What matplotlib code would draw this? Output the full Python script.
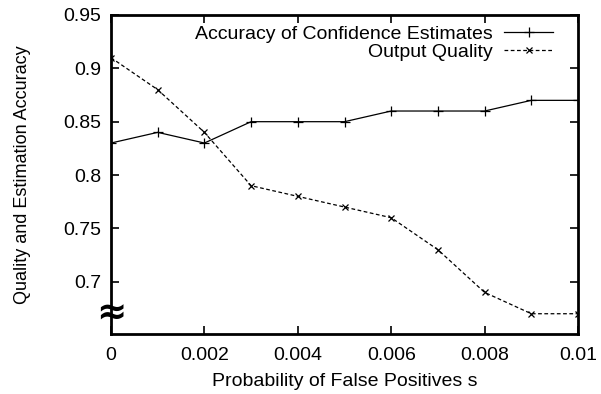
import matplotlib.pyplot as plt

plt.rcParams['font.family'] = ['Liberation Sans', 'DejaVu Sans']

# data
x = [0, 0.001, 0.002, 0.003, 0.004, 0.005, 0.006, 0.007, 0.008, 0.009, 0.01]
accuracy = [0.83, 0.84, 0.83, 0.85, 0.85, 0.85, 0.86, 0.86, 0.86, 0.87, 0.87]
quality = [0.91, 0.88, 0.84, 0.79, 0.78, 0.77, 0.76, 0.73, 0.69, 0.67, 0.67]
xticks = [0, 0.002, 0.004, 0.006, 0.008, 0.01]
xticklabels = ['0', '0.002', '0.004', '0.006', '0.008', '0.01']
yticks = [0.7, 0.75, 0.8, 0.85, 0.9, 0.95]
yticklabels = ['0.7', '0.75', '0.8', '0.85', '0.9', '0.95']

fig = plt.figure(figsize=(6.01, 3.94), dpi=100)
ax = fig.add_axes([111 / 601, 60 / 394, 467 / 601, 319 / 394])

ax.plot(x, accuracy, color='black', lw=0.9, marker='+', ms=7, mew=0.9,
        label='Accuracy of Confidence Estimates')
ax.plot(x, quality, color='black', lw=0.9, ls=(0, (3, 2)), marker='x',
        ms=5, mew=0.9, label='Output Quality')

ax.set_xlim(0, 0.01)
ax.set_ylim(0.651, 0.95)
ax.set_xticks(xticks)
ax.set_xticklabels(xticklabels)
ax.set_yticks(yticks)
ax.set_yticklabels(yticklabels)
ax.tick_params(direction='in', length=6, width=1.2, labelsize=14,
               top=True, right=True, pad=7)
ax.tick_params(axis='x', pad=9)
for s in ax.spines.values():
    s.set_linewidth(2)

ax.set_xlabel('Probability of False Positives s', fontsize=14, labelpad=7)
ax.set_ylabel('Quality and Estimation Accuracy', fontsize=13, labelpad=23)

# axis break mark
ax.text(0, 0.67, '\u2248', transform=ax.get_yaxis_transform(),
        ha='center', va='center', fontsize=26, fontweight='bold',
        family='DejaVu Sans', clip_on=False, zorder=5)

leg = ax.legend(loc='upper right', frameon=False, markerfirst=False,
                fontsize=14, handlelength=2.5, borderpad=0, borderaxespad=0,
                labelspacing=0.05, handletextpad=0.6,
                bbox_to_anchor=(553 / 601, 1 - 25 / 394),
                bbox_transform=fig.transFigure)
for t in leg.get_texts():
    t.set_ha('right')
leg._legend_box.align = 'right'

fig.savefig('out.png', dpi=100)
